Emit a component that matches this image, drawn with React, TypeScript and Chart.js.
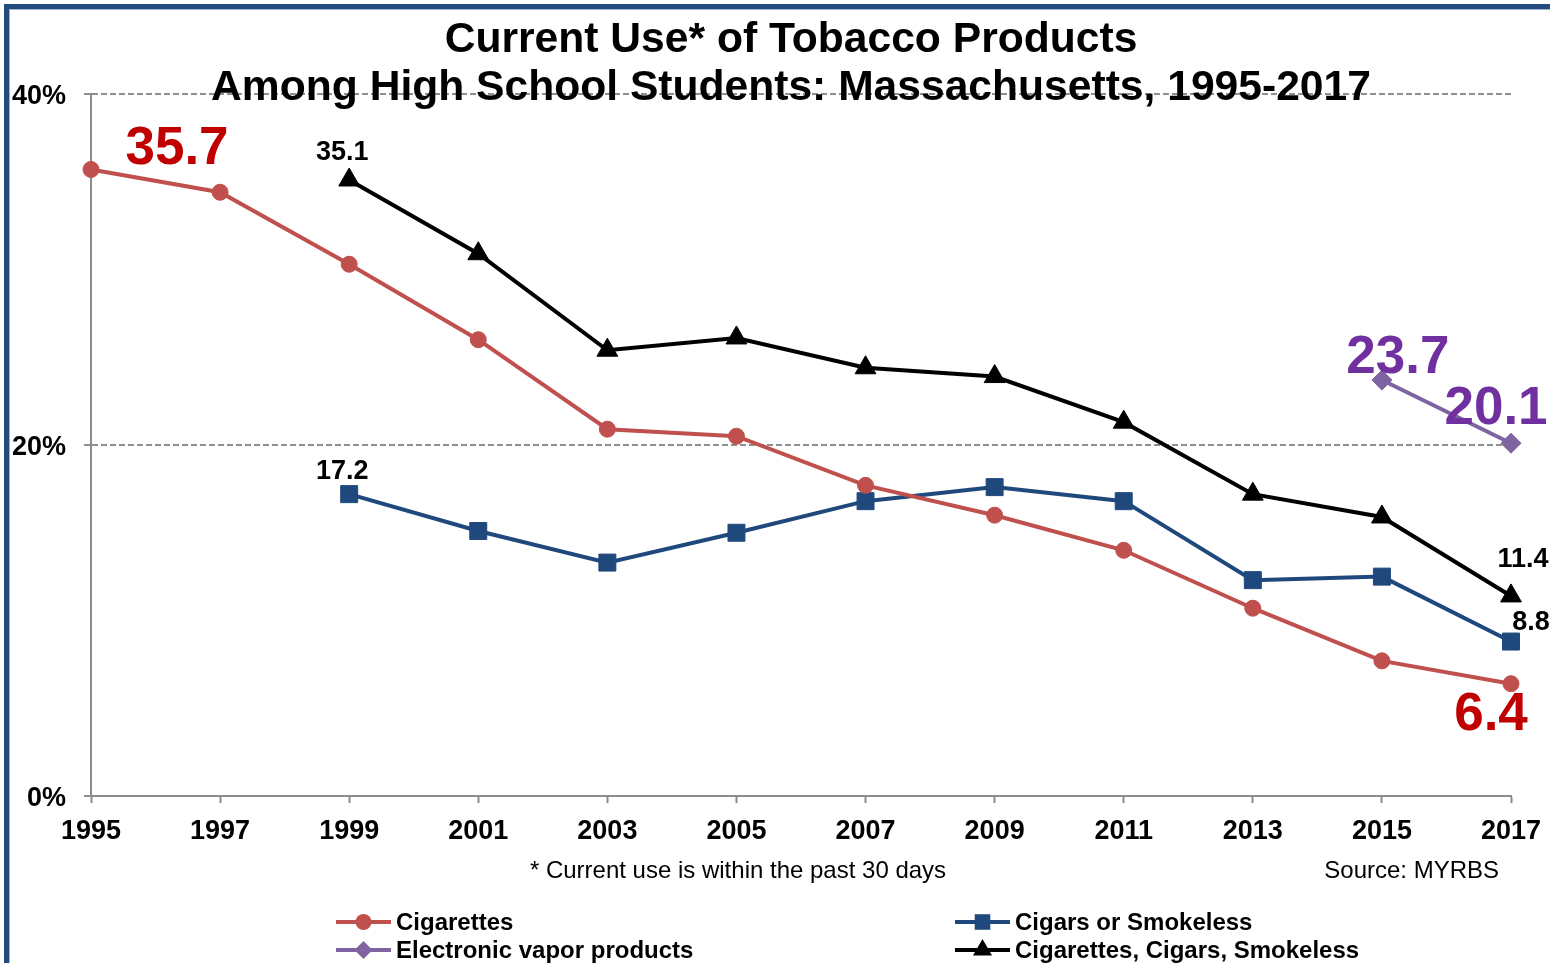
import React, { useEffect, useRef } from "react";
import { Chart, registerables } from "chart.js";

Chart.register(...registerables);

// Survey years on the x axis
const years = ["1995", "1997", "1999", "2001", "2003", "2005", "2007", "2009", "2011", "2013", "2015", "2017"];

// Percent of high school students reporting use in the past 30 days
const cigarettes = [35.7, 34.4, 30.3, 26.0, 20.9, 20.5, 17.7, 16.0, 14.0, 10.7, 7.7, 6.4];
const cigarsOrSmokeless = [null, null, 17.2, 15.1, 13.3, 15.0, 16.8, 17.6, 16.8, 12.3, 12.5, 8.8];
const vaporProducts = [null, null, null, null, null, null, null, null, null, null, 23.7, 20.1];
const anyTobacco = [null, null, 35.1, 30.9, 25.4, 26.1, 24.4, 23.9, 21.3, 17.2, 15.9, 11.4];

// Y axis ticks (percent)
const yTicks = [0, 20, 40];

const titleLines = ["Current Use* of Tobacco Products", "Among High School Students: Massachusetts, 1995-2017"];
const footnote = "* Current use is within the past 30 days";
const sourceNote = "Source: MYRBS";

const FONT = "'Liberation Sans', Arial, Helvetica, sans-serif";

const RED = "#C0504D";
const BLUE = "#1F497D";
const PURPLE = "#8064A2";
const BLACK = "#000000";

// Value callouts: which point, and how it is styled / offset from the marker
const callouts = [
  { ds: 0, i: 0, size: 53, color: "#C00000", dx: 86, dy: -5 },
  { ds: 0, i: 11, size: 53, color: "#C00000", dx: -20, dy: 46 },
  { ds: 2, i: 10, size: 53, color: "#7030A0", dx: 16, dy: -7 },
  { ds: 2, i: 11, size: 53, color: "#7030A0", dx: -15, dy: -19 },
  { ds: 3, i: 2, size: 27, color: "#000", dx: -7, dy: -20 },
  { ds: 1, i: 2, size: 27, color: "#000", dx: -7, dy: -15 },
  { ds: 3, i: 11, size: 27, color: "#000", dx: 12, dy: -29 },
  { ds: 1, i: 11, size: 27, color: "#000", dx: 20, dy: -12 },
];

function drawMarker(ctx: CanvasRenderingContext2D, style: string, x: number, y: number, r: number, color: string) {
  ctx.save();
  ctx.fillStyle = color;
  ctx.beginPath();
  if (style === "circle") {
    ctx.arc(x, y, r, 0, Math.PI * 2);
  } else if (style === "rect") {
    const s = r * Math.SQRT1_2;
    ctx.rect(x - s, y - s, 2 * s, 2 * s);
  } else if (style === "rectRot") {
    ctx.moveTo(x, y - r);
    ctx.lineTo(x + r, y);
    ctx.lineTo(x, y + r);
    ctx.lineTo(x - r, y);
    ctx.closePath();
  } else if (style === "triangle") {
    ctx.moveTo(x, y - r);
    ctx.lineTo(x + r * 0.866, y + r * 0.5);
    ctx.lineTo(x - r * 0.866, y + r * 0.5);
    ctx.closePath();
  }
  ctx.fill();
  ctx.restore();
}

const decorations = {
  id: "decorations",
  beforeDraw(chart: any) {
    const ctx: CanvasRenderingContext2D = chart.ctx;
    ctx.save();
    ctx.fillStyle = "#fff";
    ctx.fillRect(0, 0, chart.width, chart.height);
    // slide frame
    ctx.fillStyle = "#234B7E";
    ctx.fillRect(4, 4, chart.width - 4, 5);
    ctx.fillRect(4, 4, 5, chart.height - 4);
    ctx.fillStyle = "#9DB3CE";
    ctx.fillRect(9, 9, chart.width - 9, 1);
    ctx.fillRect(9, 9, 1, chart.height - 9);
    ctx.restore();
  },
  afterDatasetsDraw(chart: any) {
    const ctx: CanvasRenderingContext2D = chart.ctx;
    ctx.save();
    ctx.textAlign = "center";
    ctx.textBaseline = "alphabetic";
    callouts.forEach((c) => {
      const meta = chart.getDatasetMeta(c.ds);
      const el = meta.data[c.i];
      const v = chart.data.datasets[c.ds].data[c.i];
      if (!el || v == null) return;
      ctx.font = `bold ${c.size}px ${FONT}`;
      ctx.fillStyle = c.color;
      ctx.fillText(Number(v).toFixed(1), el.x + c.dx, el.y + c.dy);
    });
    ctx.restore();
  },
  afterDraw(chart: any) {
    const ctx: CanvasRenderingContext2D = chart.ctx;
    ctx.save();
    // title
    ctx.fillStyle = "#000";
    ctx.textAlign = "center";
    ctx.textBaseline = "alphabetic";
    ctx.font = `bold 42.6px ${FONT}`;
    ctx.fillText(titleLines[0], 791, 52);
    ctx.fillText(titleLines[1], 791, 100);

    // notes under the axis
    ctx.font = `24px ${FONT}`;
    ctx.fillText(footnote, 738, 878);
    ctx.textAlign = "right";
    ctx.fillText(sourceNote, 1499, 878);

    // legend, two columns
    const cols = [336, 955];
    const rows = [922, 950];
    const order = [0, 2, 1, 3];
    ctx.textAlign = "left";
    ctx.textBaseline = "middle";
    ctx.font = `bold 24px ${FONT}`;
    order.forEach((dsIndex, k) => {
      const ds = chart.data.datasets[dsIndex];
      const x = cols[Math.floor(k / 2)];
      const y = rows[k % 2];
      ctx.strokeStyle = ds.borderColor;
      ctx.lineWidth = 4;
      ctx.beginPath();
      ctx.moveTo(x, y);
      ctx.lineTo(x + 55, y);
      ctx.stroke();
      const r = ds.pointStyle === "rect" ? 11 : ds.pointStyle === "triangle" ? 11 : ds.pointStyle === "rectRot" ? 9 : 8;
      drawMarker(ctx, ds.pointStyle, x + 27.5, y, r, ds.pointBackgroundColor);
      ctx.fillStyle = "#000";
      ctx.fillText(ds.label, x + 60, y + 1);
    });
    ctx.restore();
  },
};

export default function App() {
  const canvasRef = useRef<HTMLCanvasElement | null>(null);

  useEffect(() => {
    if (!canvasRef.current) return;
    const mk = (label: string, data: (number | null)[], color: string, pointStyle: string, radius: number) => ({
      label,
      data,
      borderColor: color,
      backgroundColor: color,
      pointBackgroundColor: color,
      pointBorderColor: color,
      pointBorderWidth: 1,
      borderWidth: 4,
      pointStyle,
      pointRadius: radius,
      tension: 0,
    });

    const chart = new Chart(canvasRef.current, {
      type: "line",
      data: {
        labels: years,
        datasets: [
          mk("Cigarettes", cigarettes, RED, "circle", 8),
          mk("Cigars or Smokeless", cigarsOrSmokeless, BLUE, "rect", 12),
          mk("Electronic vapor products", vaporProducts, PURPLE, "rectRot", 10),
          mk("Cigarettes, Cigars, Smokeless", anyTobacco, BLACK, "triangle", 12),
        ] as any,
      },
      options: {
        responsive: false,
        animation: false,
        events: [],
        layout: { padding: { left: 0, top: 94, right: 39, bottom: 0 } },
        plugins: {
          legend: { display: false },
          title: { display: false },
          tooltip: { enabled: false },
        },
        scales: {
          x: {
            type: "category",
            offset: false,
            grid: {
              drawOnChartArea: false,
              drawTicks: true,
              tickLength: 7,
              tickColor: "#8c8c8c",
              tickWidth: 2,
              color: "#8c8c8c",
            },
            border: { display: true, color: "#8c8c8c", width: 2 },
            ticks: {
              color: "#000",
              font: { family: FONT, size: 27, weight: "bold" },
              padding: 12,
              maxRotation: 0,
              autoSkip: false,
            },
            afterFit(scale: any) {
              scale.height = 167;
              scale.paddingLeft = 0;
              scale.paddingRight = 0;
            },
          },
          y: {
            min: 0,
            max: 40,
            afterBuildTicks(scale: any) {
              scale.ticks = yTicks.map((v) => ({ value: v }));
            },
            grid: {
              color: (c: any) => (c.tick && c.tick.value === 0 ? "rgba(0,0,0,0)" : "#8f8f8f"),
              lineWidth: 2,
              drawTicks: true,
              tickLength: 7,
              tickColor: "#8f8f8f",
              tickWidth: 2,
              tickBorderDash: [6, 3],
            },
            border: { display: true, color: "#8c8c8c", width: 2, dash: [6, 3] },
            ticks: {
              color: "#000",
              font: { family: FONT, size: 27, weight: "bold" },
              padding: 18,
              labelOffset: 3,
              callback: (v: any) => `${v}%`,
            },
            afterFit(scale: any) {
              scale.width = 91;
              scale.paddingTop = 0;
              scale.paddingBottom = 0;
            },
          },
        },
      } as any,
      plugins: [decorations],
    });
    return () => chart.destroy();
  }, []);

  return (
    <div style={{ position: "absolute", left: 0, top: 0, width: 1550, height: 963, background: "#fff" }}>
      <canvas ref={canvasRef} width={1550} height={963} style={{ display: "block" }} />
    </div>
  );
}
